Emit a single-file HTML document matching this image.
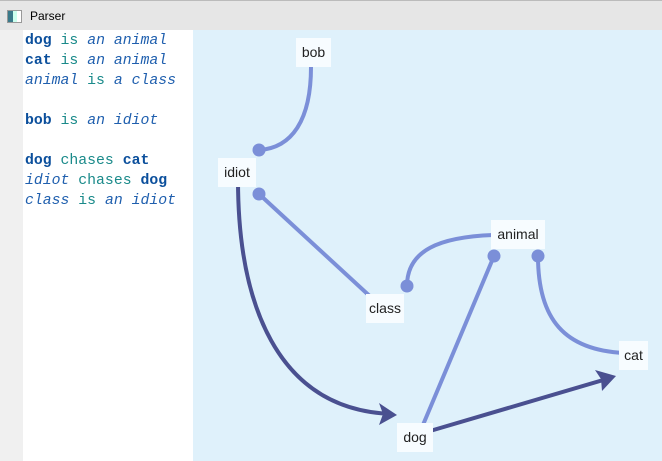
<!DOCTYPE html>
<html><head><style>
body{margin:0;width:662px;height:461px;overflow:hidden;background:#e6e6e6;font-family:"Liberation Sans",sans-serif;position:relative}
.title{position:absolute;left:0;top:0;width:662px;height:30px;background:#e6e6e6;border-top:1px solid #bbb}
.title span{position:absolute;left:30px;top:8px;font-size:12px;color:#000}
.icon{position:absolute;left:7px;top:9px;width:13px;height:11px;border:1px solid #999;background:linear-gradient(90deg,#3a7a8a 0 40%,#cfe 40% 70%,#fff 70%)}
.gut{position:absolute;left:0;top:30px;width:23px;height:431px;background:#f0f0f0}
.ed{position:absolute;left:23px;top:30px;width:170px;height:431px;background:#fff}
.code{position:absolute;left:25px;top:31px;font-family:"Liberation Mono",monospace;font-size:14.8px;line-height:20px;white-space:pre;color:#1f5fae}
.k{color:#0b4f9c;font-weight:bold}.t{color:#1a8a8a}.i{font-style:italic;color:#1f5fae}
svg{position:absolute;left:0;top:0}
.lbl{font-family:"Liberation Sans",sans-serif;font-size:14px;fill:#222}
</style></head><body>
<div class="title"><div class="icon"></div><span>Parser</span></div>
<div class="gut"></div><div class="ed"></div>
<div class="code"><span class="k">dog</span> <span class="t">is</span> <span class="i">an animal</span>
<span class="k">cat</span> <span class="t">is</span> <span class="i">an animal</span>
<span class="i">animal</span> <span class="t">is</span> <span class="i">a class</span>

<span class="k">bob</span> <span class="t">is</span> <span class="i">an idiot</span>

<span class="k">dog</span> <span class="t">chases</span> <span class="k">cat</span>
<span class="i">idiot</span> <span class="t">chases</span> <span class="k">dog</span>
<span class="i">class</span> <span class="t">is</span> <span class="i">an idiot</span></div>
<svg width="662" height="461">
<rect x="193" y="30" width="469" height="431" fill="#dff1fb"/>
<g fill="none" stroke="#7b8fd8" stroke-width="4">
<path d="M311,67 C311,120 292,148 259,150"/>
<path d="M259,194 L374,300"/>
<path d="M493,235 C440,237 407,250 407,286"/>
<path d="M494,256 L420,432"/>
<path d="M538,256 C538,320 565,350 624,353"/>
</g>
<g fill="#7b8fd8"><circle cx="259" cy="150" r="6.5"/><circle cx="259" cy="194" r="6.5"/><circle cx="407" cy="286" r="6.5"/><circle cx="494" cy="256" r="6.5"/><circle cx="538" cy="256" r="6.5"/></g>
<g fill="none" stroke="#4a5090" stroke-width="4">
<path d="M238,180 C238,300 275,410 392,414"/>
<path d="M430,431 L610,378"/>
</g>
<g fill="#4a5090">
<path d="M397,415 L379,403 L383,414 L379,425 Z"/>
<path d="M616,376 L595,370 L601,379 L602,391 Z"/>
</g>
<g fill="#f7fcff">
<rect x="296" y="38" width="35" height="29"/>
<rect x="218" y="158" width="38" height="29"/>
<rect x="366" y="294" width="38" height="29"/>
<rect x="491" y="220" width="54" height="29"/>
<rect x="619" y="341" width="29" height="29"/>
<rect x="397" y="423" width="36" height="29"/>
</g>
<g class="lbl" text-anchor="middle">
<text x="313.5" y="57">bob</text>
<text x="237" y="177">idiot</text>
<text x="385" y="313">class</text>
<text x="518" y="239">animal</text>
<text x="633.5" y="360">cat</text>
<text x="415" y="442">dog</text>
</g>
</svg>
</body></html>
